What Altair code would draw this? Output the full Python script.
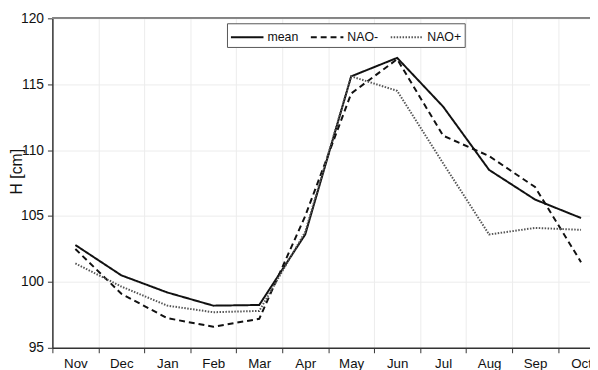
import altair as alt
import pandas as pd

months = ["Nov", "Dec", "Jan", "Feb", "Mar", "Apr", "May", "Jun", "Jul", "Aug", "Sep", "Oct"]
mean = [102.8, 100.5, 99.2, 98.2, 98.25, 103.6, 115.6, 117.0, 113.3, 108.5, 106.25, 104.85]
nao_minus = [102.5, 99.1, 97.25, 96.6, 97.2, 105.0, 114.3, 116.9, 111.1, 109.55, 107.2, 101.5]
nao_plus = [101.4, 99.65, 98.2, 97.7, 97.8, 103.8, 115.6, 114.5, 109.0, 103.6, 104.1, 103.95]
series_names = ["mean", "NAO-", "NAO+"]
y_ticks = [95, 100, 105, 110, 115, 120]

rows = []
for name, vals in zip(series_names, [mean, nao_minus, nao_plus]):
    for i, (m, v) in enumerate(zip(months, vals)):
        rows.append({"series": name, "idx": i, "month": m, "H": v})
df = pd.DataFrame(rows)

boundaries = [i - 0.5 for i in range(len(months))]
label_expr = "[" + ",".join(f"'{m}'" for m in months) + "][round(datum.value + 0.5)]"

FONT = "Liberation Sans"

x_enc = alt.X(
    "idx:Q",
    scale=alt.Scale(domain=[-0.5, 11.195], nice=False, zero=False),
    axis=alt.Axis(
        values=boundaries, labelExpr=label_expr, labelOffset=23.3, labelFlush=False,
        labelOverlap=False, title=None, grid=True, gridColor="#ececec",
        tickSize=5, tickColor="#333", domainColor="#333", domainWidth=1.5,
        labelFontSize=13.5, labelColor="#111", labelPadding=4, labelFont=FONT,
    ),
)
y_enc = alt.Y(
    "H:Q",
    scale=alt.Scale(domain=[95, 120], nice=False, zero=False),
    axis=alt.Axis(
        values=y_ticks, title="H [cm]", grid=True, gridColor="#ececec",
        tickSize=5, tickColor="#333", domainColor="#333", domainWidth=1.5,
        labelFontSize=14, labelColor="#111", labelPadding=4, labelFont=FONT,
        titleFont=FONT, titleFontSize=16, titleFontWeight="normal", titleColor="#111",
        titleX=-28, titleY=155, labelFlush=False,
    ),
)

lines = alt.Chart(df).mark_line(clip=True).encode(
    x=x_enc,
    y=y_enc,
    color=alt.Color("series:N", scale=alt.Scale(domain=series_names, range=["#111", "#111", "#555"]),
                    legend=alt.Legend(title=None)),
    strokeDash=alt.StrokeDash("series:N", scale=alt.Scale(domain=series_names, range=[[1, 0], [6, 4], [1.5, 1.5]]),
                              legend=alt.Legend(title=None)),
    strokeWidth=alt.StrokeWidth("series:N", scale=alt.Scale(domain=series_names, range=[2, 2, 1.3]), legend=None),
)

top = alt.Chart(df).mark_rule(color="#888", strokeWidth=1).encode(y=alt.datum(120))

chart = alt.layer(top, lines).properties(
    width=545, height=334,
    autosize=alt.AutoSizeParams(type="none"),
    padding={"left": 45, "top": 8, "right": 0, "bottom": 20},
).configure_view(stroke=None).configure_legend(
    orient="none", legendX=177, legendY=5, direction="horizontal", columns=3,
    fillColor="white", strokeColor="#555", padding=3,
    symbolType="M-1,0H2.3", symbolSize=400, symbolStrokeWidth=2, symbolFillColor="transparent",
    labelFontSize=12.5, labelFont=FONT, labelColor="#111", columnPadding=8, labelOffset=16,
)

chart.save("out.html", embed_options={"renderer": "svg", "actions": False})
